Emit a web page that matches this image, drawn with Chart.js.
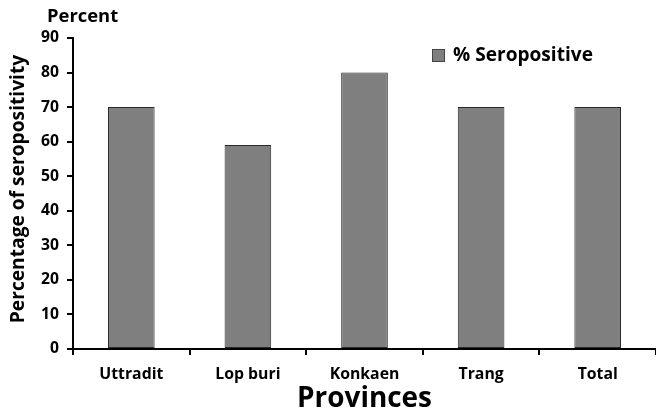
<!DOCTYPE html>
<html><head><meta charset="utf-8">
<script src="https://cdn.jsdelivr.net/npm/chart.js@4.4.1/dist/chart.umd.min.js"></script>
<style>html,body{margin:0;padding:0;background:#fff;}#wrap{width:656px;height:414px;}</style>
</head><body><div id="wrap"><canvas id="c" width="656" height="414"></canvas></div>
<script>
const categories = ["Uttradit", "Lop buri", "Konkaen", "Trang", "Total"];
const seropositive = [70, 59, 80, 70, 70];
const seriesLabel = "% Seropositive";
const yTitle = "Percentage of seropositivity";
const xTitle = "Provinces";
const unitLabel = "Percent";
const FONT = "'Open Sans', 'Liberation Sans', sans-serif";

// pick font sizes so text widths match the reference picture
const mctx = document.createElement('canvas').getContext('2d');
function fitSize(text, targetWidth) {
  mctx.font = "bold 20px " + FONT;
  const w = mctx.measureText(text).width;
  return Math.round(20 * targetWidth / w * 10) / 10;
}
const sizeUnit = fitSize(unitLabel, 71);
const sizeLegend = fitSize(seriesLabel, 140);
const sizeXTick = fitSize("Uttradit", 64);
const sizeYTick = fitSize("90", 18);
const sizeXTitle = fitSize(xTitle, 135);
const sizeYTitle = fitSize(yTitle, 268);

const overlay = {
  id: 'overlay',
  afterDraw(chart) {
    const ctx = chart.ctx;
    ctx.save();
    ctx.fillStyle = '#000';
    ctx.font = "bold " + sizeUnit + "px " + FONT;
    ctx.textBaseline = 'middle';
    ctx.textAlign = 'left';
    ctx.fillText(unitLabel, 47, 17);
    // y axis title
    ctx.save();
    ctx.translate(19, 189);
    ctx.rotate(-Math.PI / 2);
    ctx.textAlign = 'center';
    ctx.font = "bold " + sizeYTitle + "px " + FONT;
    ctx.fillText(yTitle, 0, 0);
    ctx.restore();
    // legend
    const ds = chart.data.datasets[0];
    ctx.fillStyle = ds.backgroundColor;
    ctx.fillRect(432, 49, 13, 13);
    ctx.strokeStyle = '#444';
    ctx.lineWidth = 1;
    ctx.strokeRect(432.5, 49.5, 12, 12);
    ctx.fillStyle = '#000';
    ctx.font = "bold " + sizeLegend + "px " + FONT;
    ctx.fillText(ds.label, 453, 56);
    ctx.restore();
  }
};

new Chart(document.getElementById('c'), {
  type: 'bar',
  data: {
    labels: categories,
    datasets: [{
      label: seriesLabel,
      data: seropositive,
      backgroundColor: '#7f7f7f',
      borderColor: '#2a2a2a',
      borderWidth: 1,
      borderSkipped: false,
      barPercentage: 0.4,
      categoryPercentage: 1.0
    }]
  },
  options: {
    responsive: false,
    animation: false,
    devicePixelRatio: 1,
    layout: { padding: { top: 38, right: 0, left: 0, bottom: 0 } },
    plugins: { legend: { display: false }, tooltip: { enabled: false } },
    scales: {
      x: {
        offset: true,
        grid: { display: true, drawOnChartArea: false, drawTicks: true, tickLength: 6, color: '#000', lineWidth: 2, offset: true },
        border: { display: true, color: '#000', width: 2 },
        ticks: { color: '#000', font: { family: FONT, weight: 'bold', size: sizeXTick }, padding: 10, maxRotation: 0 },
        title: { display: true, text: xTitle, color: '#000', font: { family: FONT, weight: 'bold', size: sizeXTitle, lineHeight: 1.0 }, padding: { top: 0, bottom: 1 } },
        afterFit(s) { s.height = 65; }
      },
      y: {
        min: 0, max: 90,
        grid: { display: true, drawOnChartArea: false, drawTicks: true, tickLength: 6, color: '#000', lineWidth: 2 },
        border: { display: true, color: '#000', width: 2 },
        ticks: { stepSize: 10, color: '#000', font: { family: FONT, weight: 'bold', size: sizeYTick }, padding: 8 },
        title: { display: false },
        afterFit(s) { s.width = 73; }
      }
    }
  },
  plugins: [overlay]
});
</script></body></html>
